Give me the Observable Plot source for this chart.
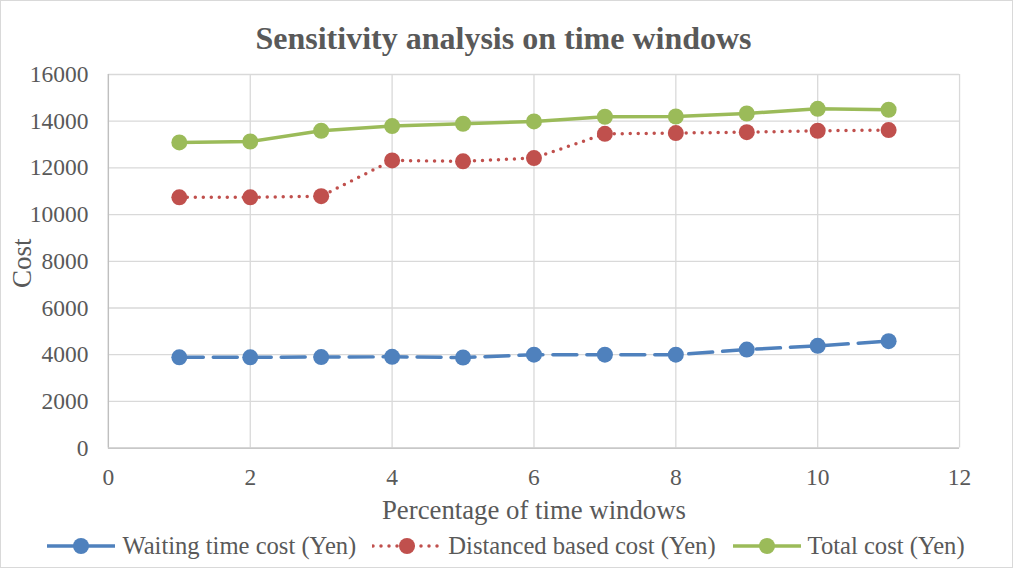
<!DOCTYPE html>
<html>
<head>
<meta charset="utf-8">
<script src="https://cdn.jsdelivr.net/npm/d3@7"></script>
<script src="https://cdn.jsdelivr.net/npm/@observablehq/plot@0.6"></script>
<style>
  html, body { margin: 0; padding: 0; background: #fff; }
  #chart { position: relative; width: 1013px; height: 568px; box-sizing: border-box; border: 1px solid #d9d9d9; overflow: hidden; font-family: "Liberation Serif", "Times New Roman", serif; color: #595959; }
  #title { position: absolute; left: 0; top: 0; width: 1011px; text-align: center; font-weight: bold; font-size: 32px; line-height: 1; padding-top: 21px; margin-left: -3px; }
  #plot { position: absolute; left: -1px; top: 61px; }
  #legend { position: absolute; left: 0; top: 522px; width: 1011px; height: 46px; display: flex; justify-content: center; align-items: center; font-size: 24.6px; margin-left: -1px; }
  .item { display: flex; align-items: center; margin: 0 8px; }
  .item svg { margin-right: 6px; }
</style>
</head>
<body>
<div id="chart">
  <div id="title">Sensitivity analysis on time windows</div>
  <div id="plot"></div>
  <div id="legend"></div>
</div>
<script>
const percentages = [1, 2, 3, 4, 5, 6, 7, 8, 9, 10, 11];
const waitingCost = [3890, 3890, 3900, 3910, 3880, 4000, 4000, 4000, 4220, 4380, 4580];
const distanceCost = [10740, 10740, 10790, 12320, 12280, 12420, 13460, 13490, 13530, 13590, 13620];
const totalCost = [13090, 13130, 13590, 13790, 13890, 13990, 14190, 14200, 14330, 14530, 14490];
const seriesNames = ["Waiting time cost (Yen)", "Distanced based cost (Yen)", "Total cost (Yen)"];
const xTicks = [0, 2, 4, 6, 8, 10, 12];
const yTicks = [0, 2000, 4000, 6000, 8000, 10000, 12000, 14000, 16000];

const colors = ["#4f81bd", "#c0504d", "#9bbb59"];
const dashes = ["24,10", "0,8", null];
const valuesList = [waitingCost, distanceCost, totalCost];

const series = valuesList.map((vals, s) => percentages.map((p, i) => ({x: p, y: vals[i], s})));

const marks = [
  Plot.gridX(xTicks, {stroke: "#d9d9d9", strokeOpacity: 1, strokeWidth: 1.3}),
  Plot.gridY(yTicks, {stroke: "#d9d9d9", strokeOpacity: 1, strokeWidth: 1.3}),
  Plot.ruleX([0], {stroke: "#bfbfbf", strokeWidth: 1.3}),
  Plot.ruleY([0], {stroke: "#bfbfbf", strokeWidth: 1.3}),
];
series.forEach((data, s) => {
  marks.push(Plot.line(data, {x: "x", y: "y", stroke: colors[s], strokeWidth: 3.5, strokeDasharray: dashes[s] || undefined, strokeLinecap: "round"}));
  marks.push(Plot.dot(data, {x: "x", y: "y", r: 8, fill: colors[s], stroke: "none"}));
});
marks.push(Plot.text(["Percentage of time windows"], {frameAnchor: "bottom", textAnchor: "middle", lineAnchor: "bottom", dy: 71, fontSize: 26.8, fill: "#595959"}));
marks.push(Plot.text(["Cost"], {frameAnchor: "left", textAnchor: "middle", lineAnchor: "middle", rotate: -90, dx: -86, dy: 2, fontSize: 27, fill: "#595959"}));

const chart = Plot.plot({
  width: 1013,
  height: 459,
  marginLeft: 108,
  marginRight: 53,
  marginTop: 12,
  marginBottom: 73,
  style: {fontFamily: "Liberation Serif, Times New Roman, serif", fontSize: "23.5px", color: "#595959", background: "transparent", overflow: "visible"},
  x: {domain: [0, 12], ticks: xTicks, tickSize: 0, tickPadding: 20, label: null, tickFormat: d => String(d)},
  y: {domain: [0, 16000], ticks: yTicks, tickSize: 0, tickPadding: 20, label: null, tickFormat: d => String(d)},
  marks
});
document.getElementById("plot").appendChild(chart);

const legend = document.getElementById("legend");
seriesNames.forEach((name, s) => {
  const item = document.createElement("div");
  item.className = "item";
  const dash = s === 1 ? 'stroke-dasharray="0,8" stroke-linecap="round"' : "";
  item.innerHTML = `<svg width="70" height="20"><line x1="1" y1="10" x2="69" y2="10" stroke="${colors[s]}" stroke-width="3.5" ${dash}/><circle cx="35" cy="10" r="8" fill="${colors[s]}"/></svg><span>${name}</span>`;
  legend.appendChild(item);
});
</script>
</body>
</html>
